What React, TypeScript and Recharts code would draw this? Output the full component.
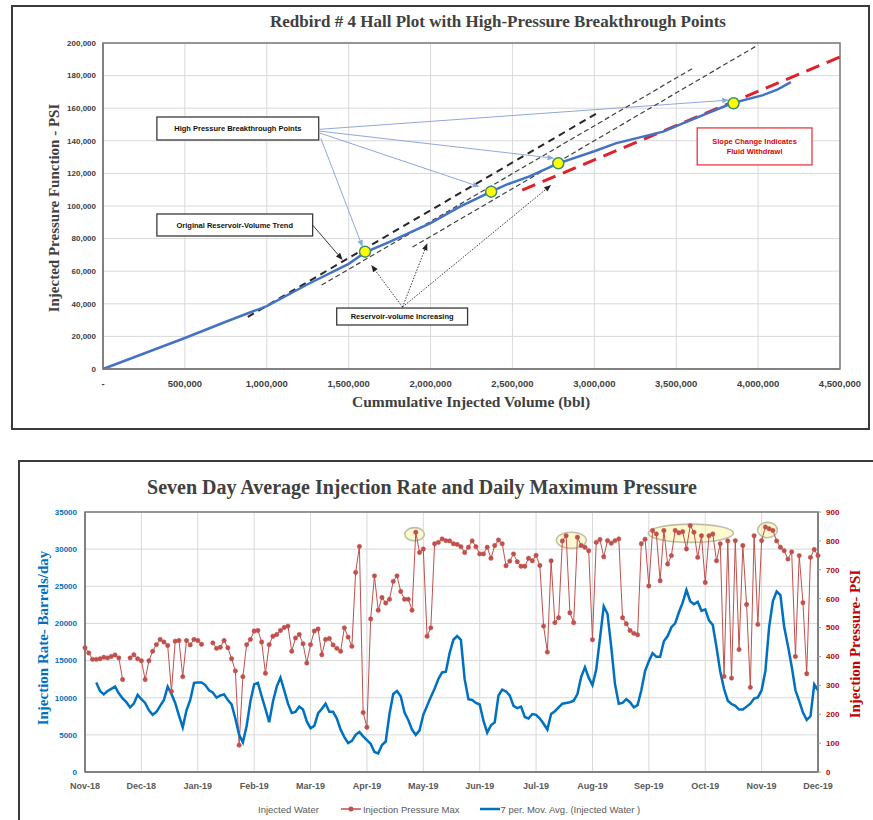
import React from 'react';
import {
  ComposedChart,
  Line,
  Scatter,
  XAxis,
  YAxis,
  CartesianGrid,
  ReferenceLine,
  ReferenceArea,
} from 'recharts';

// ================= Hall plot data =================
const hallVolume = [0, 250000, 500000, 750000, 1000000, 1250000, 1500000, 1600000, 1750000, 2000000, 2180000, 2370000, 2460000, 2600000, 2780000, 3000000, 3130000, 3420000, 3540000, 3840000, 4030000, 4120000, 4200000];
const hallPressure = [0, 9500, 19000, 29000, 38600, 52000, 64500, 71500, 78000, 89500, 99600, 108800, 113000, 118000, 126200, 133600, 138400, 145600, 150700, 163000, 168000, 171500, 176000];
const breakthroughVolume = [1600000, 2370000, 2780000, 3850000];
const breakthroughPressure = [72000, 108800, 126200, 163000];
const hallXTicks = [0, 500000, 1000000, 1500000, 2000000, 2500000, 3000000, 3500000, 4000000, 4500000];
const hallYTicks = [0, 20000, 40000, 60000, 80000, 100000, 120000, 140000, 160000, 180000, 200000];

// trend lines, in data units (volume, pressure function)
const originalTrend = { x1: 884000, y1: 32000, x2: 3030000, y2: 157700 };
const increasingTrends = [
  { x1: 1335000, y1: 51500, x2: 3610000, y2: 185000 },
  { x1: 1890000, y1: 74800, x2: 4000000, y2: 198800 },
];
const withdrawalTrend = { x1: 2560000, y1: 109800, x2: 4500000, y2: 191400 };

// annotation boxes (data units)
const noteBoxes = [
  { lines: ['High Pressure Breakthrough Points'], x1: 329000, x2: 1317000, y1: 140500, y2: 154600, red: false },
  { lines: ['Original Reservoir-Volume Trend'], x1: 329000, x2: 1280000, y1: 81600, y2: 95100, red: false },
  { lines: ['Reservoir-volume Increasing'], x1: 1427000, x2: 2226000, y1: 27000, y2: 37400, red: false },
  { lines: ['Slope Change Indicates', 'Fluid Withdrawl'], x1: 3628000, x2: 4329000, y1: 125200, y2: 147900, red: true },
];
const breakthroughArrows = [
  { x1: 1330000, y1: 141500, x2: 1585000, y2: 74800 },
  { x1: 1317000, y1: 145000, x2: 2300000, y2: 111800 },
  { x1: 1317000, y1: 146000, x2: 2756000, y2: 129300 },
  { x1: 1317000, y1: 147000, x2: 3823000, y2: 165000 },
];
const trendArrow = { x1: 1280000, y1: 88300, x2: 1463000, y2: 66900 };
const increasingArrows = [
  { x1: 1829000, y1: 38000, x2: 1638000, y2: 63800 },
  { x1: 1829000, y1: 38000, x2: 1980000, y2: 77100 },
  { x1: 1829000, y1: 38000, x2: 2736000, y2: 112900 },
];

// ================= Injection data =================
const monthLabels = ['Nov-18', 'Dec-18', 'Jan-19', 'Feb-19', 'Mar-19', 'Apr-19', 'May-19', 'Jun-19', 'Jul-19', 'Aug-19', 'Sep-19', 'Oct-19', 'Nov-19', 'Dec-19'];
const monthTicks = [0, 1, 2, 3, 4, 5, 6, 7, 8, 9, 10, 11, 12, 13];
const rateTicks = [0, 5000, 10000, 15000, 20000, 25000, 30000, 35000];
const psiTicks = [0, 100, 200, 300, 400, 500, 600, 700, 800, 900];

// daily max pressure (psi), ~every 2 days, 15 readings per month
const pNov18 = [430, 412, 390, 390, 392, 397, 395, 400, 405, 395, 320, null, 395, 406, 392];
const pDec18 = [385, 320, 385, 418, 441, 459, 450, 438, 279, 453, 455, 330, 455, 440, 459];
const pJan19 = [455, 442, null, null, 447, 428, 432, 455, 430, 392, 350, 93, 330, 441, 459];
const pFeb19 = [488, 490, 450, 342, 441, 470, 476, 490, 500, 505, 418, 464, 476, 444, 377];
const pMar19 = [441, 488, 495, 406, 459, 462, 440, 428, 418, 499, 467, 435, 691, 781, 206];
const pApr19 = [155, 530, 679, 560, 604, 585, 598, 660, 679, 625, 598, 598, 560, 830, 760];
const pMay19 = [772, 470, 499, 790, 795, 807, 801, 800, 790, 788, 780, 760, 778, 800, 780];
const pJun19 = [755, 755, 778, 740, 784, 803, 790, 714, 730, 755, 728, 712, 712, 740, 731];
const pJul19 = [750, 715, 505, 415, 731, 517, 534, 800, 818, 551, 517, 813, 784, 778, 766];
const pAug19 = [458, 795, 805, 745, 801, 792, 801, 807, 534, 513, 490, 480, 475, 790, 806];
const pSep19 = [644, 836, 824, 662, 836, 720, 749, 836, 828, 832, 772, 853, 830, 743, 818];
const pOct19 = [656, 818, 824, 731, 790, 331, 800, 325, 801, 424, 784, 580, 293, 818, 511];
const pNov19 = [801, 848, 842, 836, 800, 778, 766, 737, 762, 400, 749, 586, 340, 743, 770];
const pDec19 = [749];

// 7 period moving average of injected water (bbl/day)
const mNov18 = [null, null, null, 12045, 10900, 10450, 10900, 11200, 11500, 10600, 9900, 9400, 8700, 9200, 10400];
const mDec18 = [9800, 9300, 8300, 7700, 8100, 8900, 9700, 11500, 10500, 9300, 7600, 6000, 8300, 9700, 12000];
const mJan19 = [12045, 12045, 11700, 11000, 10700, 10000, 10300, 10450, 9700, 9100, 7200, 5000, 4000, 6200, 9500];
const mFeb19 = [11800, 12000, 10200, 8500, 6700, 9500, 11500, 12700, 11000, 9200, 7950, 8100, 8800, 8400, 6800];
const mMar19 = [5900, 6200, 7900, 8500, 9200, 8100, 8100, 7200, 5700, 4700, 3900, 4200, 5000, 5400, 4800];
const mApr19 = [4300, 3800, 2700, 2500, 3640, 4100, 7800, 10500, 10900, 10200, 8000, 7000, 5700, 5000, 5600];
const mMay19 = [7700, 8900, 10100, 11200, 12500, 13400, 13500, 16000, 17800, 18300, 17800, 12500, 9800, 9700, 9300];
const mJun19 = [9090, 6900, 5300, 6300, 6700, 10300, 11100, 10850, 10300, 8900, 8600, 8800, 7400, 7200, 7800];
const mJul19 = [7700, 7200, 6500, 5700, 7800, 8180, 8700, 9200, 9300, 9400, 9600, 10500, 12800, 14100, 12700];
const mAug19 = [11700, 13800, 18000, 22300, 21300, 16800, 11800, 9200, 9300, 9800, 9400, 8700, 9000, 11000, 13600];
const mSep19 = [14900, 16000, 15500, 15500, 17600, 18300, 19500, 20000, 21500, 22800, 24500, 23000, 22600, 22900, 21700];
const mOct19 = [21900, 20400, 19800, 16800, 13500, 11200, 9600, 9150, 8900, 8400, 8400, 8800, 9200, 9900, 10050];
const mNov19 = [11000, 13600, 19500, 23000, 24300, 23800, 19550, 17000, 14200, 11000, 9545, 8000, 7000, 7500, 11800];
const mDec19 = [11000];

const highlightZones = [
  { x1: 5.67, x2: 6.02, y1: 800, y2: 846 },
  { x1: 8.36, x2: 8.89, y1: 774, y2: 830 },
  { x1: 9.99, x2: 11.5, y1: 795, y2: 858 },
  { x1: 11.93, x2: 12.28, y1: 811, y2: 864 },
];

const pressureByMonth = [pNov18, pDec18, pJan19, pFeb19, pMar19, pApr19, pMay19, pJun19, pJul19, pAug19, pSep19, pOct19, pNov19, pDec19];
const rateByMonth = [mNov18, mDec18, mJan19, mFeb19, mMar19, mApr19, mMay19, mJun19, mJul19, mAug19, mSep19, mOct19, mNov19, mDec19];

const injectionRows: { m: number; pressure: number | null; rate: number | null }[] = [];
pressureByMonth.forEach((arr, mi) => {
  arr.forEach((v, k) => {
    injectionRows.push({ m: mi + k / 15, pressure: v, rate: rateByMonth[mi][k] ?? null });
  });
});

const hallRows = hallVolume.map((x, i) => ({ x, y: hallPressure[i] }));
const breakthroughRows = breakthroughVolume.map((x, i) => ({ x, y: breakthroughPressure[i] }));

// ================= helpers =================
const fmtThousands = (v: number) => String(Math.round(v)).replace(/\B(?=(\d{3})+(?!\d))/g, ',');

const arrowShape = (color: string, width: number, dash?: string) => (p: any) => {
  const { x1, y1, x2, y2 } = p;
  if ([x1, y1, x2, y2].some((v) => v == null || Number.isNaN(v))) return <g />;
  const ang = Math.atan2(y2 - y1, x2 - x1);
  const L = 7;
  const W = 2.8;
  const bx = x2 - L * Math.cos(ang);
  const by = y2 - L * Math.sin(ang);
  const pts = `${x2},${y2} ${bx + W * Math.sin(ang)},${by - W * Math.cos(ang)} ${bx - W * Math.sin(ang)},${by + W * Math.cos(ang)}`;
  return (
    <g>
      <line x1={x1} y1={y1} x2={bx} y2={by} stroke={color} strokeWidth={width} strokeDasharray={dash} />
      <polygon points={pts} fill={color} />
    </g>
  );
};

const noteShape = (lines: string[], red: boolean) => (p: any) => {
  const { x, y, width, height } = p;
  const cx = x + width / 2;
  const cy = y + height / 2;
  const lh = 10;
  const start = cy - ((lines.length - 1) * lh) / 2;
  return (
    <g>
      <rect x={x} y={y} width={width} height={height} fill="#ffffff" stroke={red ? '#E8383D' : '#3a3a3a'} strokeWidth={1.3} />
      {lines.map((t, i) => (
        <text
          key={i}
          x={cx}
          y={start + i * lh}
          dy="0.35em"
          textAnchor="middle"
          fontSize={7.5}
          fontWeight={700}
          fontFamily="Liberation Sans, Arial, sans-serif"
          fill={red ? '#E00000' : '#111111'}
        >
          {t}
        </text>
      ))}
    </g>
  );
};

const ellipseShape = (p: any) => (
  <ellipse
    cx={p.x + p.width / 2}
    cy={p.y + p.height / 2}
    rx={p.width / 2}
    ry={p.height / 2}
    fill="#FFF3A0"
    fillOpacity={0.5}
    stroke="#BFBFA8"
    strokeWidth={1.6}
  />
);

const frameShape = (p: any) => (
  <rect x={p.x} y={p.y} width={p.width} height={p.height} fill="none" stroke="#7a7a7a" strokeWidth={1.5} />
);

const serif = 'Liberation Serif, Times New Roman, serif';

function HallChart() {
  return (
    <ComposedChart width={873} height={430} margin={{ top: 43, right: 33, bottom: 36, left: 53 }}>
      <CartesianGrid stroke="#d9d9d9" strokeWidth={1} />
      <XAxis
        type="number"
        dataKey="x"
        domain={[0, 4500000]}
        ticks={hallXTicks}
        interval={0}
        height={25}
        tickFormatter={(v: number) => (v === 0 ? '-' : fmtThousands(v))}
        tick={{ fill: '#404040', fontSize: 9.5, fontWeight: 700, fontFamily: 'Liberation Sans, Arial, sans-serif' }}
        tickLine={false}
        tickSize={0}
        tickMargin={11}
        axisLine={{ stroke: '#7a7a7a', strokeWidth: 1.5 }}
      />
      <YAxis
        type="number"
        domain={[0, 200000]}
        ticks={hallYTicks}
        interval={0}
        width={50}
        tickFormatter={(v: number) => fmtThousands(v)}
        tick={{ fill: '#404040', fontSize: 8, fontWeight: 700, fontFamily: 'Liberation Sans, Arial, sans-serif' }}
        tickLine={false}
        tickSize={0}
        tickMargin={7}
        axisLine={{ stroke: '#7a7a7a', strokeWidth: 1.5 }}
      />
      <ReferenceArea x1={0} x2={4500000} y1={0} y2={200000} ifOverflow="visible" shape={frameShape} />

      {breakthroughArrows.map((a, i) => (
        <ReferenceLine
          key={'ba' + i}
          segment={[{ x: a.x1, y: a.y1 }, { x: a.x2, y: a.y2 }]}
          ifOverflow="visible"
          shape={arrowShape('#8FA8DC', 1)}
        />
      ))}
      <ReferenceLine
        segment={[{ x: originalTrend.x1, y: originalTrend.y1 }, { x: originalTrend.x2, y: originalTrend.y2 }]}
        ifOverflow="visible"
        stroke="#262626"
        strokeWidth={2}
        strokeDasharray="7 5"
      />
      {increasingTrends.map((t, i) => (
        <ReferenceLine
          key={'it' + i}
          segment={[{ x: t.x1, y: t.y1 }, { x: t.x2, y: t.y2 }]}
          ifOverflow="visible"
          stroke="#404040"
          strokeWidth={1.2}
          strokeDasharray="5 3"
        />
      ))}
      <ReferenceLine
        segment={[{ x: withdrawalTrend.x1, y: withdrawalTrend.y1 }, { x: withdrawalTrend.x2, y: withdrawalTrend.y2 }]}
        ifOverflow="visible"
        stroke="#E0202A"
        strokeWidth={3}
        strokeDasharray="14 8"
      />
      <ReferenceLine
        segment={[{ x: trendArrow.x1, y: trendArrow.y1 }, { x: trendArrow.x2, y: trendArrow.y2 }]}
        ifOverflow="visible"
        shape={arrowShape('#222222', 0.9)}
      />
      {increasingArrows.map((a, i) => (
        <ReferenceLine
          key={'ia' + i}
          segment={[{ x: a.x1, y: a.y1 }, { x: a.x2, y: a.y2 }]}
          ifOverflow="visible"
          shape={arrowShape('#222222', 0.9, '1.5 1.5')}
        />
      ))}

      <Line
        data={hallRows}
        dataKey="y"
        type="linear"
        stroke="#4472C4"
        strokeWidth={2.5}
        dot={false}
        isAnimationActive={false}
      />
      <Scatter
        data={breakthroughRows}
        dataKey="y"
        isAnimationActive={false}
        shape={(p: any) => <circle cx={p.cx} cy={p.cy} r={5.5} fill="#FFFF00" stroke="#3B8C6E" strokeWidth={1.5} />}
      />

      {noteBoxes.map((b, i) => (
        <ReferenceArea key={'nb' + i} x1={b.x1} x2={b.x2} y1={b.y1} y2={b.y2} ifOverflow="visible" shape={noteShape(b.lines, b.red)} />
      ))}
    </ComposedChart>
  );
}

function InjectionChart() {
  return (
    <ComposedChart width={873} height={360} data={injectionRows} margin={{ top: 52, right: 10, bottom: 23, left: 40 }}>
      <CartesianGrid stroke="#d9d9d9" strokeWidth={1} yAxisId="left" />
      <XAxis
        type="number"
        dataKey="m"
        domain={[0, 13]}
        ticks={monthTicks}
        interval={0}
        height={25}
        tickFormatter={(v: number) => monthLabels[v]}
        tick={{ fill: '#595959', fontSize: 9, fontWeight: 700, fontFamily: 'Liberation Sans, Arial, sans-serif' }}
        tickLine={false}
        tickSize={0}
        tickMargin={11}
        axisLine={{ stroke: '#7a7a7a', strokeWidth: 1.5 }}
      />
      <YAxis
        yAxisId="left"
        type="number"
        domain={[0, 35000]}
        ticks={rateTicks}
        interval={0}
        width={45}
        tick={{ fill: '#0070C0', fontSize: 8, fontWeight: 700, fontFamily: 'Liberation Sans, Arial, sans-serif' }}
        tickLine={false}
        tickSize={0}
        tickMargin={8}
        axisLine={{ stroke: '#7a7a7a', strokeWidth: 1.5 }}
      />
      <YAxis
        yAxisId="right"
        orientation="right"
        type="number"
        domain={[0, 900]}
        ticks={psiTicks}
        interval={0}
        width={45}
        tick={{ fill: '#C00000', fontSize: 8, fontWeight: 700, fontFamily: 'Liberation Sans, Arial, sans-serif' }}
        tickLine={{ stroke: '#9a9a9a' }}
        tickSize={3}
        tickMargin={5}
        axisLine={{ stroke: '#7a7a7a', strokeWidth: 1.5 }}
      />
      <ReferenceArea yAxisId="left" x1={0} x2={13} y1={0} y2={35000} ifOverflow="visible" shape={frameShape} />
      {highlightZones.map((z, i) => (
        <ReferenceArea key={'hz' + i} yAxisId="right" x1={z.x1} x2={z.x2} y1={z.y1} y2={z.y2} ifOverflow="visible" shape={ellipseShape} />
      ))}
      <Line
        yAxisId="right"
        dataKey="pressure"
        type="linear"
        stroke="#C0504D"
        strokeWidth={1}
        connectNulls={false}
        dot={{ r: 2.2, fill: '#C0504D', stroke: '#C0504D', strokeWidth: 0.5 }}
        isAnimationActive={false}
      />
      <Line
        yAxisId="left"
        dataKey="rate"
        type="linear"
        stroke="#0070C0"
        strokeWidth={2.5}
        dot={false}
        connectNulls={false}
        isAnimationActive={false}
      />
    </ComposedChart>
  );
}

export default function App() {
  const abs = (style: React.CSSProperties): React.CSSProperties => ({ position: 'absolute', ...style });
  return (
    <div style={abs({ left: 0, top: 0, width: 873, height: 820, overflow: 'hidden', background: '#ffffff' })}>
      <div style={abs({ left: 11, top: 5, width: 859, height: 425, border: '2px solid #3a3a3a', boxSizing: 'border-box' })} />
      <div style={abs({ left: 18, top: 460, width: 900, height: 420, border: '2px solid #3a3a3a', boxSizing: 'border-box' })} />

      <div style={abs({ left: 0, top: 0 })}>
        <HallChart />
      </div>
      <div style={abs({ left: 0, top: 460 })}>
        <InjectionChart />
      </div>

      {/* Hall plot text */}
      <div style={abs({ left: 198, top: 13, width: 600, textAlign: 'center', fontFamily: serif, fontWeight: 700, fontSize: 17, lineHeight: '17px', color: '#404040', whiteSpace: 'nowrap' })}>
        Redbird # 4 Hall Plot with High-Pressure Breakthrough Points
      </div>
      <div style={abs({ left: 271, top: 394, width: 400, textAlign: 'center', fontFamily: serif, fontWeight: 700, fontSize: 15.5, lineHeight: '15.5px', color: '#404040', whiteSpace: 'nowrap' })}>
        Cummulative Injected Volume (bbl)
      </div>
      <div style={abs({ left: 54 - 150, top: 208 - 8, width: 300, height: 16, textAlign: 'center', fontFamily: serif, fontWeight: 700, fontSize: 15, lineHeight: '16px', color: '#404040', whiteSpace: 'nowrap', transform: 'rotate(-90deg)', transformOrigin: '150px 8px' })}>
        Injected Pressure Function - PSI
      </div>

      {/* Injection chart text */}
      <div style={abs({ left: 122, top: 477, width: 600, textAlign: 'center', fontFamily: serif, fontWeight: 700, fontSize: 20, lineHeight: '20px', color: '#404040', whiteSpace: 'nowrap' })}>
        Seven Day Average Injection Rate and Daily Maximum Pressure
      </div>
      <div style={abs({ left: 43 - 150, top: 638 - 8, width: 300, height: 16, textAlign: 'center', fontFamily: serif, fontWeight: 700, fontSize: 15, lineHeight: '16px', color: '#0070C0', whiteSpace: 'nowrap', transform: 'rotate(-90deg)', transformOrigin: '150px 8px' })}>
        Injection Rate- Barrels/day
      </div>
      <div style={abs({ left: 855 - 150, top: 644 - 8, width: 300, height: 16, textAlign: 'center', fontFamily: serif, fontWeight: 700, fontSize: 15, lineHeight: '16px', color: '#C00000', whiteSpace: 'nowrap', transform: 'rotate(-90deg)', transformOrigin: '150px 8px' })}>
        Injection Pressure- PSI
      </div>

      {/* legend */}
      <div style={abs({ left: 258, top: 803, height: 12, display: 'flex', alignItems: 'center', fontFamily: 'Liberation Sans, Arial, sans-serif', fontSize: 9.5, color: '#595959', whiteSpace: 'nowrap' })}>
        <span>Injected Water</span>
        <svg width={20} height={10} style={{ marginLeft: 22, marginRight: 2 }}>
          <line x1={0} y1={5} x2={20} y2={5} stroke="#C0504D" strokeWidth={1.5} />
          <circle cx={10} cy={5} r={2.5} fill="#C0504D" />
        </svg>
        <span>Injection Pressure Max</span>
        <svg width={20} height={10} style={{ marginLeft: 20, marginRight: 1 }}>
          <line x1={0} y1={5} x2={20} y2={5} stroke="#0070C0" strokeWidth={2.5} />
        </svg>
        <span>7 per. Mov. Avg. (Injected Water )</span>
      </div>
    </div>
  );
}
